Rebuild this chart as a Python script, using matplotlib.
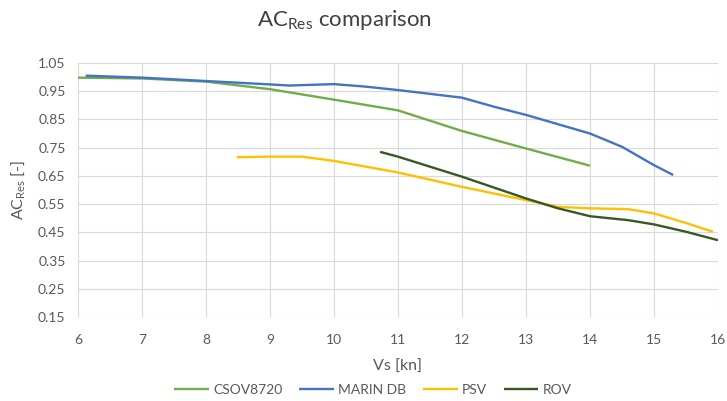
import matplotlib
matplotlib.use("Agg")
import matplotlib.pyplot as plt

plt.rcParams['font.family'] = ['Lato', 'DejaVu Sans']
plt.rcParams['mathtext.fontset'] = 'custom'
plt.rcParams['mathtext.rm'] = 'Lato'
plt.rcParams['mathtext.it'] = 'Lato:italic'

# Series data (speed in knots, resistance coefficient)
csov_x = [6.0, 7.0, 8.0, 9.0, 10.0, 11.0, 12.0, 13.0, 14.0]
csov_y = [0.998, 0.995, 0.984, 0.957, 0.920, 0.882, 0.809, 0.747, 0.686]

marin_x = [6.12, 7.0, 8.0, 9.0, 9.3, 10.0, 10.5, 11.0, 12.0, 12.5, 13.0, 14.0, 14.5, 15.0, 15.3]
marin_y = [1.005, 0.998, 0.986, 0.974, 0.970, 0.975, 0.966, 0.954, 0.927, 0.895, 0.866, 0.800, 0.753, 0.688, 0.653]

psv_x = [8.48, 9.0, 9.5, 10.0, 11.0, 12.0, 13.0, 13.5, 14.0, 14.6, 15.0, 15.5, 15.92]
psv_y = [0.716, 0.718, 0.718, 0.703, 0.662, 0.611, 0.564, 0.540, 0.535, 0.532, 0.517, 0.483, 0.452]

rov_x = [10.72, 11.0, 12.0, 13.0, 13.5, 14.0, 14.6, 15.0, 15.5, 16.0]
rov_y = [0.735, 0.718, 0.647, 0.570, 0.535, 0.507, 0.493, 0.478, 0.452, 0.422]

series = [
    ("CSOV8720", csov_x, csov_y, "#70AD47"),
    ("MARIN DB", marin_x, marin_y, "#4472C4"),
    ("PSV", psv_x, psv_y, "#FFC000"),
    ("ROV", rov_x, rov_y, "#385723"),
]

x_ticks = list(range(6, 17))
y_ticks = [0.15, 0.25, 0.35, 0.45, 0.55, 0.65, 0.75, 0.85, 0.95, 1.05]

fig = plt.figure(figsize=(7.27, 4.01), dpi=100)
ax = fig.add_axes([0.1073, 0.2095, 0.8803, 0.6335])

for name, xs, ys, col in series:
    ax.plot(xs, ys, color=col, lw=1.7, label=name, solid_capstyle='butt')

ax.set_xlim(6, 16)
ax.set_ylim(0.15, 1.05)
ax.set_xticks(x_ticks)
ax.set_yticks(y_ticks)
ax.set_yticklabels([f"{v:.2f}" for v in y_ticks])
ax.grid(True, color="#D9D9D9", lw=0.8)
ax.set_axisbelow(True)
for s in ax.spines.values():
    s.set_visible(False)
ax.tick_params(length=0, labelsize=10, colors="#595959")
ax.tick_params(axis='x', pad=12.5)
ax.tick_params(axis='y', pad=9)

ax.set_xlabel("Vs [kn]", fontsize=11.5, color="#595959")
ax.xaxis.set_label_coords(0.5, -0.197)
ax.xaxis.label.set_va("center")
ax.set_ylabel(r"AC$_{\mathrm{Res}}$ [-]", fontsize=11.5, color="#595959")
ax.yaxis.set_label_coords(-0.094, 0.5)
ax.yaxis.label.set_va("center")

fig.text(344 / 727, 0.95, r"AC$_{\mathrm{Res}}$ comparison", fontsize=16, color="#404040",
         ha="center", va="center")

fig.legend(loc="center", bbox_to_anchor=(373 / 727, 1 - 390 / 401), ncol=4, frameon=False,
           fontsize=10, handlelength=2.5, columnspacing=1.2, handletextpad=0.3,
           labelcolor="#595959")

fig.savefig("out.png", dpi=100)
